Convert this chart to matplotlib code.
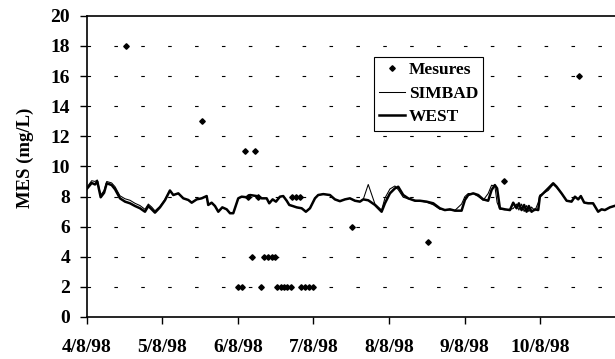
import matplotlib
matplotlib.use("Agg")
import matplotlib.pyplot as plt

# ---- data (x = days since 4/8/98 00:00) ----
tick_days = [0, 1, 2, 3, 4, 5, 6]
tick_labels = ["4/8/98", "5/8/98", "6/8/98", "7/8/98", "8/8/98", "9/8/98", "10/8/98"]

meas_days = [0.52, 1.52, 2.00, 2.06, 2.10, 2.14, 2.19, 2.23, 2.27, 2.31, 2.35, 2.40,
             2.45, 2.49, 2.52, 2.565, 2.61, 2.65, 2.70, 2.72, 2.77, 2.82, 2.84, 2.89,
             2.94, 2.99, 3.51, 4.52, 5.52, 6.52]
meas_vals = [18, 13, 2, 2, 11, 8, 4, 11, 8, 2, 4, 4,
             4, 4, 2, 2, 2, 2, 2, 8, 8, 8, 2, 2,
             2, 2, 6, 5, 9, 16]

sim_days = [0.00, 0.066, 0.11, 0.14, 0.185, 0.23, 0.265, 0.33, 0.375, 0.44, 0.507, 0.573,
            0.639, 0.705, 0.771, 0.815, 0.86, 0.903, 0.969, 1.035, 1.101, 1.146, 1.212, 1.278,
            1.344, 1.389, 1.455, 1.521, 1.587, 1.608, 1.653, 1.697, 1.741, 1.794, 1.852, 1.896,
            1.939, 2.005, 2.05, 2.116, 2.16, 2.249, 2.315, 2.381, 2.415, 2.46, 2.504, 2.557,
            2.60, 2.646, 2.68, 2.725, 2.778, 2.844, 2.90, 2.954, 3.02, 3.063, 3.13, 3.218,
            3.284, 3.35, 3.417, 3.483, 3.549, 3.615, 3.659, 3.725, 3.814, 3.902, 3.946, 4.012,
            4.078, 4.122, 4.188, 4.254, 4.343, 4.409, 4.497, 4.585, 4.673, 4.739, 4.806, 4.872,
            4.96, 5.004, 5.048, 5.114, 5.18, 5.246, 5.312, 5.357, 5.40, 5.43, 5.467, 5.533,
            5.60, 5.643, 5.688, 5.718, 5.754, 5.788, 5.82, 5.85, 5.886, 5.93, 5.974, 5.996,
            6.04, 6.106, 6.172, 6.217, 6.283, 6.35, 6.415, 6.46, 6.503, 6.538, 6.582, 6.635,
            6.70, 6.767, 6.812, 6.856, 6.922, 6.98]

west_vals = [8.5, 8.9, 8.8, 9.0, 7.95, 8.25, 8.88, 8.76, 8.48, 7.88, 7.66, 7.55,
             7.37, 7.22, 6.99, 7.37, 7.15, 6.93, 7.28, 7.75, 8.4, 8.1, 8.21, 7.88,
             7.77, 7.59, 7.81, 7.88, 8.03, 7.44, 7.59, 7.37, 6.99, 7.28, 7.15, 6.89,
             6.89, 7.88, 7.99, 7.95, 8.1, 8.03, 7.88, 7.88, 7.55, 7.81, 7.66, 7.99,
             8.03, 7.72, 7.44, 7.37, 7.28, 7.22, 6.99, 7.22, 7.88, 8.1, 8.16, 8.1,
             7.81, 7.69, 7.81, 7.88, 7.72, 7.66, 7.81, 7.75, 7.44, 6.99, 7.55, 8.21,
             8.54, 8.65, 8.1, 7.88, 7.72, 7.72, 7.66, 7.55, 7.22, 7.1, 7.15, 7.06,
             7.06, 7.77, 8.1, 8.21, 8.1, 7.81, 7.72, 8.43, 8.76, 8.54, 7.22, 7.15,
             7.1, 7.59, 7.22, 7.55, 7.1, 7.44, 6.99, 7.37, 6.99, 7.15, 7.1, 7.99,
             8.21, 8.54, 8.88, 8.65, 8.21, 7.72, 7.66, 7.99, 7.81, 8.03, 7.6, 7.55,
             7.55, 6.99, 7.15, 7.1, 7.28, 7.37]

simbad_vals = [8.6, 9.05, 9.0, 9.1, 8.1, 8.4, 9.0, 8.9, 8.65, 8.05, 7.85, 7.75,
               7.55, 7.4, 7.15, 7.5, 7.3, 7.05, 7.35, 7.8, 8.4, 8.1, 8.21, 7.88,
               7.77, 7.59, 7.81, 7.88, 8.03, 7.44, 7.59, 7.37, 6.99, 7.28, 7.15, 6.89,
               6.89, 7.88, 7.99, 7.95, 8.1, 8.03, 7.88, 7.88, 7.55, 7.81, 7.66, 7.99,
               8.03, 7.72, 7.44, 7.37, 7.28, 7.22, 6.99, 7.22, 7.88, 8.1, 8.16, 8.1,
               7.81, 7.69, 7.81, 7.88, 7.72, 7.66, 7.81, 8.8, 7.5, 7.1, 7.9, 8.5,
               8.7, 8.45, 7.95, 7.85, 7.75, 7.7, 7.62, 7.45, 7.15, 7.12, 7.1, 7.08,
               7.5, 8.0, 8.2, 8.2, 8.0, 7.75, 8.2, 8.75, 8.7, 7.6, 7.15, 7.12,
               7.15, 7.2, 7.5, 7.1, 7.5, 7.0, 7.4, 7.0, 7.3, 7.05, 7.6, 8.1,
               8.2, 8.4, 8.8, 8.6, 8.2, 7.72, 7.66, 7.99, 7.81, 8.03, 7.6, 7.55,
               7.55, 6.99, 7.15, 7.1, 7.28, 7.37]

# ---- figure ----
plt.rcParams['font.family'] = ['Liberation Serif', 'DejaVu Serif']
plt.rcParams['font.weight'] = 'bold'

fig = plt.figure(figsize=(6.15, 3.59), dpi=100)
ax = fig.add_axes([0.141, 0.117, 0.859, 0.839])

ax.plot(sim_days, simbad_vals, color='black', lw=0.75, label='SIMBAD', zorder=3)
ax.plot(sim_days, west_vals, color='black', lw=1.8, label='WEST', zorder=4)
ax.plot(meas_days, meas_vals, linestyle='none', marker='D', markersize=2.8,
        color='black', label='Mesures', zorder=5)

ax.set_xlim(0, 6.99)
ax.set_ylim(0, 20)
ax.set_yticks(range(0, 21, 2))
ax.set_xticks(tick_days)
ax.set_xticklabels(tick_labels)

for yv in range(2, 20, 2):
    ax.axhline(yv, color='black', lw=0.8, linestyle=(0, (3.2, 21)), zorder=1)

ax.spines['right'].set_visible(False)
for s in ['left', 'bottom', 'top']:
    ax.spines[s].set_linewidth(1.2)

ax.tick_params(axis='y', direction='out', length=5, width=1.0, pad=7, labelsize=14)
ax.tick_params(axis='x', direction='out', length=5, width=1.0, pad=11, labelsize=14)
for lab in ax.get_xticklabels() + ax.get_yticklabels():
    lab.set_fontweight('bold')

fig.text(0.042, 0.56, 'MES (mg/L)', rotation=90, ha='center', va='center',
         fontsize=13.5, fontweight='bold')

handles, labels = ax.get_legend_handles_labels()
order = [2, 0, 1]
leg = ax.legend([handles[i] for i in order], [labels[i] for i in order],
                loc='upper left', bbox_to_anchor=(0.544, 0.863), frameon=True,
                fancybox=False, edgecolor='black', framealpha=1, borderpad=0.3,
                labelspacing=0.42, handlelength=1.5, handletextpad=0.2,
                borderaxespad=0, prop={'weight': 'bold', 'size': 12.5})
leg.get_frame().set_linewidth(0.8)

fig.savefig('out.png', dpi=100)
